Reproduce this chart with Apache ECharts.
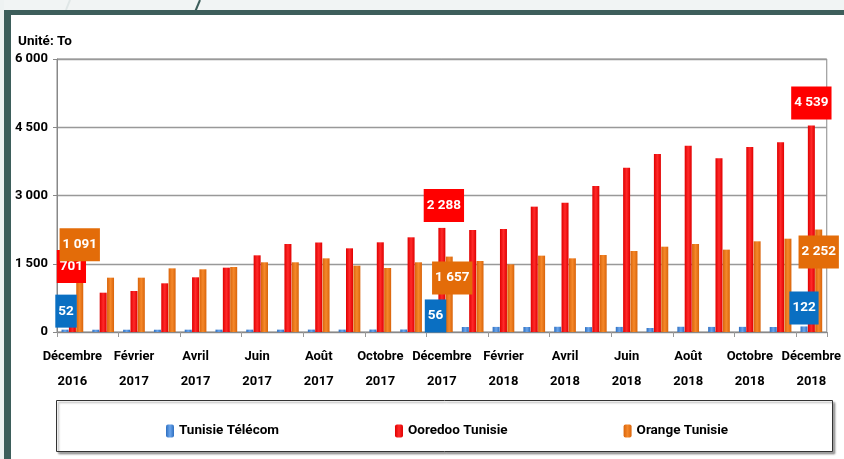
<!DOCTYPE html>
<html lang="fr">
<head>
    <meta charset="UTF-8">
    <title>Trafic data mobile</title>
    <script src="https://cdn.jsdelivr.net/npm/echarts@6/dist/echarts.min.js"></script>
    <style>
        html, body { margin: 0; padding: 0; background: #fff; }
        #main { width: 844px; height: 459px; }
    </style>
</head>
<body>
<div id="main"></div>
<script>
    // données (en To)
    var months = ['Décembre\n2016', 'Janvier\n2017', 'Février\n2017', 'Mars\n2017', 'Avril\n2017', 'Mai\n2017',
        'Juin\n2017', 'Juillet\n2017', 'Août\n2017', 'Septembre\n2017', 'Octobre\n2017', 'Novembre\n2017',
        'Décembre\n2017', 'Janvier\n2018', 'Février\n2018', 'Mars\n2018', 'Avril\n2018', 'Mai\n2018',
        'Juin\n2018', 'Juillet\n2018', 'Août\n2018', 'Septembre\n2018', 'Octobre\n2018', 'Novembre\n2018',
        'Décembre\n2018'];
    var tunisieTelecom = [52, 50, 50, 50, 51, 52, 52, 52, 53, 53, 54, 55, 56,
        110, 112, 110, 115, 108, 112, 88, 115, 112, 113, 110, 122];
    var ooredoo = [701, 864, 901, 1070, 1202, 1414, 1685, 1934, 1967, 1839, 1971, 2081, 2288,
        2242, 2264, 2755, 2842, 3209, 3612, 3912, 4095, 3817, 4066, 4169, 4539];
    var orange = [1091, 1194, 1194, 1399, 1378, 1429, 1532, 1532, 1619, 1458, 1407, 1532, 1657,
        1560, 1487, 1678, 1619, 1692, 1780, 1875, 1934, 1810, 1993, 2051, 2252];
    var yTicks = [0, 1500, 3000, 4500, 6000];

    var FONT = 'Roboto, sans-serif';
    var TEAL = '#3d5e5b';

    function fmt(v) {
        return String(v).replace(/\B(?=(\d{3})+(?!\d))/g, ' ');
    }

    // étiquettes encadrées sur les mois de décembre
    function boxLabel(bg, extra) {
        var l = {
            show: true,
            position: 'top',
            distance: 2,
            color: '#fff',
            fontFamily: FONT,
            fontWeight: 'bold',
            fontSize: 13.5,
            lineHeight: 17,
            backgroundColor: bg,
            padding: [8, 3],
            formatter: function (p) { return fmt(p.value); }
        };
        for (var k in extra) l[k] = extra[k];
        return l;
    }

    function withLabels(values, bg, cfg) {
        return values.map(function (v, i) {
            if (cfg[i]) return { value: v, label: boxLabel(bg, cfg[i]) };
            return v;
        });
    }

    var blueData = withLabels(tunisieTelecom, '#0a6fc2', {
        0: { offset: [1, 0] },
        12: { offset: [1, 5] },
        24: { offset: [0, 0] }
    });
    var redData = withLabels(ooredoo, '#ff0000', {
        0: { offset: [-1, -15] },
        12: { distance: 6, offset: [2, 0] },
        24: { distance: 6, offset: [0, 0] }
    });
    var orangeData = withLabels(orange, '#e36c09', {
        0: { offset: [0, -19] },
        12: { position: 'insideTop', distance: 5, offset: [3, 0] },
        24: { position: 'insideTop', distance: 6, offset: [0, 0] }
    });

    function grad(c1, c2) {
        return new echarts.graphic.LinearGradient(0, 0, 1, 0, [
            { offset: 0, color: c1 }, { offset: 0.5, color: c2 }, { offset: 1, color: c1 }
        ]);
    }

    var chart = echarts.init(document.getElementById('main'));
    var option = {
        backgroundColor: '#fff',
        animation: false,
        textStyle: { fontFamily: FONT },
        title: {
            text: 'Unité: To',
            left: 13,
            top: 30,
            textStyle: { fontFamily: FONT, fontSize: 13.5, fontWeight: 'bold', color: '#000' }
        },
        grid: {
            left: 57, right: 12, top: 59, bottom: 127,
            show: true, borderColor: '#888', borderWidth: 1
        },
        legend: {
            data: ['Tunisie Télécom', 'Ooredoo Tunisie', 'Orange Tunisie'],
            left: 161,
            top: 419,
            itemGap: 116,
            itemWidth: 8,
            itemHeight: 13,
            textStyle: { fontFamily: FONT, fontSize: 13.5, fontWeight: 'bold', color: '#000' }
        },
        xAxis: {
            type: 'category',
            data: months,
            axisLine: { lineStyle: { color: '#888' } },
            axisTick: { show: true, length: 5, lineStyle: { color: '#999' } },
            axisLabel: {
                interval: 1,
                margin: 12,
                color: '#000',
                fontFamily: FONT,
                fontWeight: 'bold',
                fontSize: 13,
                lineHeight: 25
            }
        },
        yAxis: {
            type: 'value',
            min: yTicks[0],
            max: yTicks[yTicks.length - 1],
            interval: yTicks[1] - yTicks[0],
            axisLine: { show: true, lineStyle: { color: '#888' } },
            axisTick: { show: true, length: 4, lineStyle: { color: '#888' } },
            splitLine: { lineStyle: { color: '#999', width: 1.3 } },
            axisLabel: {
                margin: 9,
                color: '#000',
                fontFamily: FONT,
                fontWeight: 'bold',
                fontSize: 13,
                formatter: function (v) { return fmt(v); }
            }
        },
        series: [{
            name: 'Tunisie Télécom',
            type: 'bar',
            data: blueData,
            barWidth: 7,
            barGap: '5%',
            itemStyle: { color: grad('#2e6fc0', '#6aa5ec') }
        }, {
            name: 'Ooredoo Tunisie',
            type: 'bar',
            data: redData,
            barWidth: 7,
            barGap: '5%',
            itemStyle: { color: grad('#e00000', '#ff2a2a') }
        }, {
            name: 'Orange Tunisie',
            type: 'bar',
            data: orangeData,
            barWidth: 7,
            barGap: '5%',
            itemStyle: { color: grad('#d9640a', '#f5882a') }
        }],
        graphic: [
            // cadre du diaporama
            { type: 'rect', shape: { x: 0, y: 0, width: 844, height: 10 }, style: { fill: '#f1f4f4' }, silent: true },
            { type: 'rect', shape: { x: 0, y: 0, width: 4, height: 459 }, style: { fill: '#eef2f2' }, silent: true },
            { type: 'line', shape: { x1: 70, y1: 0, x2: 66, y2: 10 }, style: { stroke: '#dfe6e6', lineWidth: 2 }, silent: true },
            { type: 'line', shape: { x1: 200, y1: 0, x2: 195, y2: 12 }, style: { stroke: TEAL, lineWidth: 2 }, silent: true },
            { type: 'rect', shape: { x: 4, y: 10, width: 840, height: 5 }, style: { fill: TEAL }, silent: true },
            { type: 'rect', shape: { x: 4, y: 10, width: 7, height: 449 }, style: { fill: TEAL }, silent: true },
            // cadre de la légende
            {
                type: 'rect', z: -1,
                shape: { x: 56.5, y: 400.5, width: 776, height: 51 },
                style: { fill: '#fff', stroke: '#333', lineWidth: 1, shadowColor: 'rgba(0,0,0,0.35)', shadowOffsetX: 2, shadowOffsetY: 2, shadowBlur: 2 },
                silent: true
            }
        ]
    };
    chart.setOption(option);
</script>
</body>
</html>
